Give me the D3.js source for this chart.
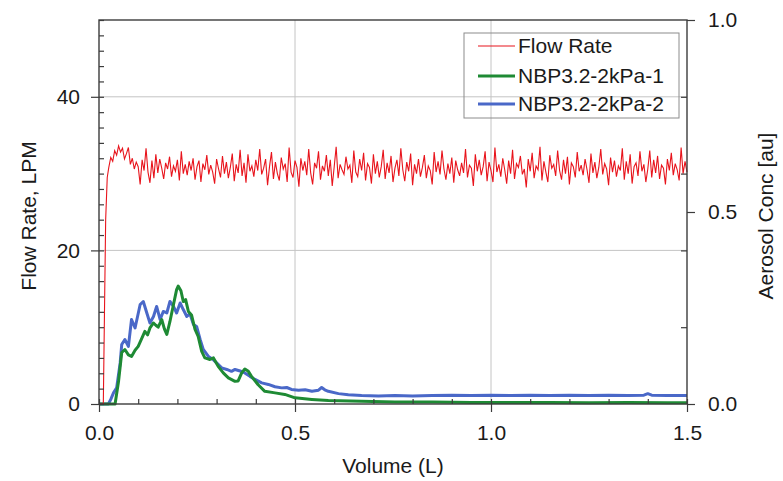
<!DOCTYPE html>
<html>
<head>
<meta charset="utf-8">
<script src="https://cdn.jsdelivr.net/npm/d3@7"></script>
<style>
  body { margin: 0; background: #fff; }
  svg { font-family: "Liberation Sans", Arial, sans-serif; }
</style>
</head>
<body>
<div id="chart"></div>
<script>
// flow rate: steep start, then sampled every flowStep litres from flowStart
const flowRiseVolume = [0, 0.011, 0.014, 0.017, 0.021];
const flowRiseRate = [0, 0, 12, 24, 29.5];
const flowStart = 0.025;
const flowStep = 0.005;
const flowRate = [
  30.8, 32.1, 31.6, 33.0, 32.4, 33.6, 32.8, 33.3, 31.9, 32.6, 33.4, 31.2, 32.0, 30.6, 31.5, 30.9, 28.6, 31.8, 30.4, 33.3,
  30.2, 28.8, 31.7, 29.4, 32.5, 30.1, 31.9, 30.7, 29.3, 31.4, 30.6, 32.2, 29.6, 31.0, 30.3, 31.8, 29.1, 32.9, 30.0, 31.2,
  29.8, 31.6, 30.4, 32.0, 29.2, 30.9, 31.7, 28.9, 31.3, 30.5, 32.4, 29.9, 31.1, 30.2, 28.7, 31.9, 30.6, 29.5, 32.3, 30.0,
  31.5, 29.4, 30.8, 32.6, 29.0, 31.2, 30.1, 33.1, 29.7, 31.4, 28.8, 32.5, 30.3, 31.0, 29.6, 31.8, 30.4, 33.2, 29.9, 30.7,
  31.9, 28.5, 30.9, 32.8, 29.3, 31.5, 30.0, 29.1, 32.1, 30.6, 31.3, 28.9, 33.4, 30.2, 29.5, 31.7, 30.8, 28.3, 32.0, 30.4,
  31.6, 29.8, 33.2, 30.1, 28.6, 31.4, 30.7, 32.9, 29.2, 31.0, 30.3, 32.4, 29.7, 31.8, 28.4, 30.9, 33.5, 29.4, 31.2, 30.5,
  29.9, 32.2, 30.6, 31.1, 28.8, 33.0, 30.2, 29.6, 31.9, 30.4, 32.7, 29.1, 31.3, 30.8, 28.7, 32.5, 30.0, 31.6, 29.5, 30.9,
  33.1, 29.3, 31.4, 30.1, 32.3, 28.9, 30.7, 31.8, 29.7, 33.3, 30.5, 29.0, 31.5, 30.3, 32.6, 28.5, 31.2, 30.0, 31.9, 29.6,
  30.8, 32.4, 29.4, 31.0, 30.4, 28.6, 32.8, 30.2, 31.6, 29.9, 33.0, 30.6, 29.2, 31.3, 30.0, 32.1, 28.8, 31.7, 30.5, 29.7,
  31.4, 30.1, 33.2, 29.5, 31.1, 30.7, 28.4, 32.5, 30.3, 31.8, 29.8, 30.9, 32.9, 29.0, 31.5, 30.4, 28.9, 33.4, 30.2, 31.2,
  29.6, 32.0, 30.5, 28.7, 31.7, 30.0, 33.1, 29.3, 31.3, 30.8, 32.3, 29.9, 30.6, 28.2, 31.9, 30.3, 32.7, 29.4, 31.0, 30.5,
  33.5, 29.1, 31.6, 30.2, 28.9, 32.4, 30.7, 31.2, 29.7, 33.0, 30.4, 29.2, 31.8, 30.0, 32.2, 28.6, 31.4, 30.9, 29.5, 32.8,
  30.3, 31.1, 29.8, 31.9, 30.5, 28.8, 32.6, 30.1, 31.5, 29.4, 30.8, 33.2, 29.9, 31.3, 30.6, 28.5, 32.1, 30.2, 31.7, 29.6,
  31.0, 30.4, 33.3, 29.2, 31.6, 30.0, 32.5, 28.7, 30.9, 31.4, 29.7, 32.9, 30.3, 31.2, 28.9, 30.6, 33.0, 29.5, 31.8, 30.1,
  32.3, 29.3, 31.1, 30.7, 28.6, 31.9, 30.4, 32.7, 29.8, 31.3, 30.5, 29.1, 33.4, 30.0, 31.6, 30.2
];

// aerosol concentration, run 1 (green)
const greenVolume = [0, 0.041, 0.050, 0.058, 0.066, 0.075, 0.083, 0.092, 0.100, 0.108, 0.117, 0.124, 0.130, 0.139,
  0.145, 0.151, 0.160, 0.167, 0.173, 0.181, 0.190, 0.198, 0.202, 0.209, 0.215, 0.221, 0.228, 0.236, 0.245, 0.253,
  0.262, 0.270, 0.283, 0.292, 0.304, 0.317, 0.330, 0.347, 0.355, 0.364, 0.372, 0.381, 0.389, 0.406, 0.423, 0.449,
  0.474, 0.500, 0.543, 0.585, 0.670, 0.755, 0.85, 0.95, 1.05, 1.15, 1.25, 1.35, 1.45, 1.5];
const greenConc = [0, 0, 0.060, 0.134, 0.142, 0.128, 0.124, 0.140, 0.150, 0.168, 0.189, 0.180, 0.198, 0.211,
  0.205, 0.200, 0.220, 0.195, 0.181, 0.215, 0.259, 0.298, 0.307, 0.295, 0.267, 0.272, 0.241, 0.232, 0.194, 0.176,
  0.137, 0.120, 0.116, 0.120, 0.098, 0.081, 0.068, 0.059, 0.060, 0.081, 0.091, 0.085, 0.072, 0.050, 0.033, 0.029,
  0.025, 0.016, 0.012, 0.009, 0.007, 0.005, 0.005, 0.004, 0.004, 0.004, 0.003, 0.004, 0.003, 0.003];

// aerosol concentration, run 2 (blue)
const blueVolume = [0, 0.024, 0.030, 0.037, 0.045, 0.054, 0.058, 0.066, 0.075, 0.083, 0.092, 0.105, 0.113, 0.122,
  0.130, 0.139, 0.147, 0.156, 0.164, 0.173, 0.181, 0.190, 0.198, 0.207, 0.215, 0.224, 0.232, 0.241, 0.249, 0.258,
  0.266, 0.279, 0.292, 0.300, 0.313, 0.326, 0.338, 0.347, 0.360, 0.372, 0.385, 0.398, 0.415, 0.432, 0.449, 0.466,
  0.479, 0.491, 0.509, 0.526, 0.543, 0.560, 0.568, 0.576, 0.585, 0.611, 0.636, 0.670, 0.713, 0.755, 0.80, 0.85,
  0.90, 0.95, 1.00, 1.05, 1.10, 1.15, 1.20, 1.25, 1.30, 1.35, 1.39, 1.40, 1.41, 1.45, 1.5];
const blueConc = [0, 0, 0.012, 0.029, 0.042, 0.107, 0.155, 0.168, 0.150, 0.220, 0.198, 0.259, 0.267, 0.237,
  0.211, 0.228, 0.254, 0.220, 0.241, 0.237, 0.267, 0.254, 0.237, 0.263, 0.246, 0.228, 0.235, 0.207, 0.202, 0.168,
  0.142, 0.124, 0.115, 0.107, 0.094, 0.090, 0.085, 0.090, 0.086, 0.081, 0.072, 0.064, 0.055, 0.051, 0.045, 0.042,
  0.043, 0.038, 0.036, 0.037, 0.033, 0.036, 0.043, 0.037, 0.033, 0.027, 0.024, 0.022, 0.021, 0.022, 0.021, 0.022,
  0.023, 0.022, 0.023, 0.022, 0.023, 0.022, 0.023, 0.022, 0.023, 0.022, 0.023, 0.027, 0.023, 0.022, 0.022];

const seriesNames = ["Flow Rate", "NBP3.2-2kPa-1", "NBP3.2-2kPa-2"];
const seriesColors = ["#e8141c", "#1e8a34", "#4a68c8"];

var width = 783;
var height = 481;
var margin = { top: 20, bottom: 77, left: 99, right: 96 };

var svg = d3.select('#chart')
  .append('svg')
  .attr('width', width)
  .attr('height', height);

const x = d3.scaleLinear()
  .domain([0, 1.5])
  .range([margin.left, width - margin.right]);

const yFlow = d3.scaleLinear()
  .domain([0, 50])
  .range([height - margin.bottom, margin.top]);

const yConc = d3.scaleLinear()
  .domain([0, 1])
  .range([height - margin.bottom, margin.top]);

const axisColor = "#3c3c3c";
const textColor = "#1a1a1a";
const fontSize = "21px";

// grid
svg.append("g")
  .selectAll("line.gx")
  .data([0.5, 1.0])
  .join("line")
    .attr("x1", d => x(d)).attr("x2", d => x(d))
    .attr("y1", margin.top).attr("y2", height - margin.bottom)
    .attr("stroke", "#c4c4c4").attr("stroke-width", 1);

svg.append("g")
  .selectAll("line.gy")
  .data([20, 40])
  .join("line")
    .attr("x1", margin.left).attr("x2", width - margin.right)
    .attr("y1", d => yFlow(d)).attr("y2", d => yFlow(d))
    .attr("stroke", "#c4c4c4").attr("stroke-width", 1);

// data lines
const flowData = flowRiseVolume.map((v, i) => [v, flowRiseRate[i]])
  .concat(flowRate.map((f, i) => [flowStart + i * flowStep, f]));
const greenData = greenVolume.map((v, i) => [v, greenConc[i]]);
const blueData = blueVolume.map((v, i) => [v, blueConc[i]]);

const flowLine = d3.line().x(d => x(d[0])).y(d => yFlow(d[1]));
const concLine = d3.line().x(d => x(d[0])).y(d => yConc(d[1]));

svg.append("path")
  .datum(blueData)
  .attr("d", concLine)
  .attr("fill", "none")
  .attr("stroke", seriesColors[2])
  .attr("stroke-width", 3)
  .attr("stroke-linejoin", "round");

svg.append("path")
  .datum(greenData)
  .attr("d", concLine)
  .attr("fill", "none")
  .attr("stroke", seriesColors[1])
  .attr("stroke-width", 3)
  .attr("stroke-linejoin", "round");

svg.append("path")
  .datum(flowData)
  .attr("d", flowLine)
  .attr("fill", "none")
  .attr("stroke", seriesColors[0])
  .attr("stroke-width", 1.1);

// axes
function styleAxis(g) {
  g.select(".domain").remove();
  g.selectAll("line").attr("stroke", axisColor).attr("stroke-width", 1.2);
  g.selectAll("text").attr("font-size", fontSize).attr("fill", textColor)
    .attr("font-family", '"Liberation Sans", Arial, sans-serif');
}

svg.append("g")
  .attr("transform", `translate(${margin.left},0)`)
  .call(d3.axisLeft(yFlow).tickValues(d3.range(0, 51, 2)).tickSize(-5).tickFormat(""))
  .call(styleAxis);
svg.append("g")
  .attr("transform", `translate(${margin.left},0)`)
  .call(d3.axisLeft(yFlow).tickValues([0, 20, 40]).tickSizeInner(8).tickSizeOuter(0).tickPadding(11))
  .call(styleAxis);

svg.append("g")
  .attr("transform", `translate(${width - margin.right},0)`)
  .call(d3.axisRight(yConc).tickValues([0.2, 0.4, 0.6, 0.8]).tickSize(-6).tickFormat(""))
  .call(styleAxis);
svg.append("g")
  .attr("transform", `translate(${width - margin.right},0)`)
  .call(d3.axisRight(yConc).tickValues([0, 0.5, 1]).tickSizeInner(8).tickSizeOuter(0)
    .tickPadding(13).tickFormat(d3.format(".1f")))
  .call(styleAxis);

svg.append("g")
  .attr("transform", `translate(0,${height - margin.bottom})`)
  .call(d3.axisBottom(x).tickValues(d3.range(0, 1.51, 0.1)).tickSize(-5).tickFormat(""))
  .call(styleAxis);
svg.append("g")
  .attr("transform", `translate(0,${height - margin.bottom})`)
  .call(d3.axisBottom(x).tickValues([0, 0.5, 1, 1.5]).tickSizeInner(8).tickSizeOuter(0)
    .tickPadding(13).tickFormat(d3.format(".1f")))
  .call(styleAxis);

// frame
svg.append("rect")
  .attr("x", margin.left)
  .attr("y", margin.top)
  .attr("width", width - margin.left - margin.right)
  .attr("height", height - margin.top - margin.bottom)
  .attr("fill", "none")
  .attr("stroke", axisColor)
  .attr("stroke-width", 1.4);

// axis titles
svg.append("text")
  .attr("x", (margin.left + width - margin.right) / 2)
  .attr("y", 473)
  .attr("text-anchor", "middle")
  .attr("font-size", fontSize)
  .attr("fill", textColor)
  .text("Volume (L)");

svg.append("text")
  .attr("transform", "translate(36,216) rotate(-90)")
  .attr("text-anchor", "middle")
  .attr("font-size", fontSize)
  .attr("fill", textColor)
  .text("Flow Rate, LPM");

svg.append("text")
  .attr("transform", "translate(773,216) rotate(-90)")
  .attr("text-anchor", "middle")
  .attr("font-size", fontSize)
  .attr("fill", textColor)
  .text("Aerosol Conc [au]");

// legend
const legend = svg.append("g");
legend.append("rect")
  .attr("x", 464).attr("y", 33)
  .attr("width", 215).attr("height", 85)
  .attr("fill", "none")
  .attr("stroke", "#8c8c8c")
  .attr("stroke-width", 1);

const legendRows = [46, 76, 104];
const legendWidths = [1.1, 3, 3];
seriesNames.forEach((name, i) => {
  legend.append("line")
    .attr("x1", 478).attr("x2", 515)
    .attr("y1", legendRows[i]).attr("y2", legendRows[i])
    .attr("stroke", seriesColors[i])
    .attr("stroke-width", legendWidths[i]);
  legend.append("text")
    .attr("x", 518)
    .attr("y", legendRows[i] + 7)
    .attr("font-size", fontSize)
    .attr("fill", textColor)
    .text(name);
});
</script>
</body>
</html>
